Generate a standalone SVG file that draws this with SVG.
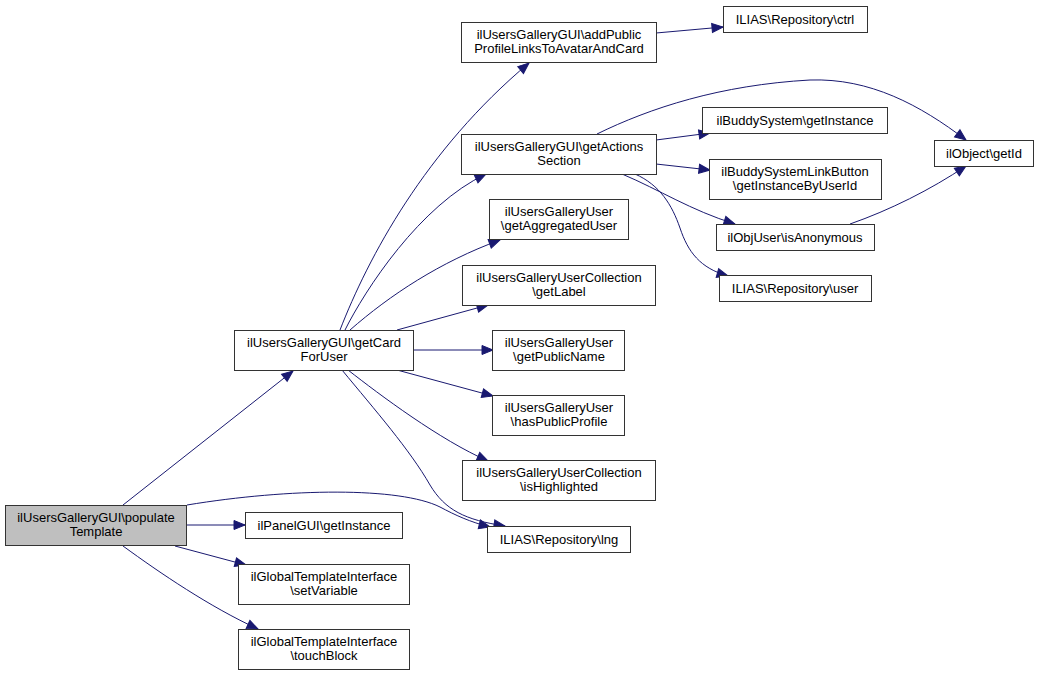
<svg xmlns="http://www.w3.org/2000/svg" width="1039" height="675" viewBox="0 0 1039 675">
<style>
.n rect{fill:#ffffff;stroke:#333333;stroke-width:1}
.n.root rect{fill:#bfbfbf}
.n text{font-family:"Liberation Sans",Arial,Helvetica,sans-serif;font-size:13px;fill:#000000;text-anchor:middle}
.e path{fill:none;stroke:#191970;stroke-width:1;marker-end:url(#ah)}
</style>
<defs>
<marker id="ah" markerUnits="userSpaceOnUse" markerWidth="14" markerHeight="11" refX="11" refY="4.5" orient="auto" overflow="visible">
<path d="M0,0 L11,4.5 L0,9 Z" fill="#191970" stroke="#191970" stroke-width="1"/>
</marker>
</defs>
<rect width="1039" height="675" fill="#ffffff"/>
<g id="connectors" class="e">
<path d="M123,505 L293,371"/>
<path d="M186,525 L245,525"/>
<path d="M175,546 L246,565"/>
<path d="M123,546 C160,573 210,607 258,629"/>
<path d="M187,505 C290,488 400,487 440,507 C455,515 470,522 490,527"/>
<path d="M340,330 C368,258 425,150 529,63"/>
<path d="M345,330 C365,290 420,205 486,174"/>
<path d="M350,330 C390,295 440,262 500,240"/>
<path d="M397,330 L488,305"/>
<path d="M413,350 L493,350"/>
<path d="M397,370 L493,396"/>
<path d="M348,370 C380,395 440,440 488,461"/>
<path d="M342,370 C375,410 410,450 430,485 C445,510 465,520 505,526"/>
<path d="M597,134 C650,108 720,85 810,80 C870,78 920,105 966,140"/>
<path d="M656,140 L710,133"/>
<path d="M656,164 L710,170"/>
<path d="M622,174 C660,190 690,210 735,224"/>
<path d="M635,174 C660,185 672,205 680,228 C688,252 700,268 728,276"/>
<path d="M850,224 C890,210 930,190 966,166"/>
<path d="M656,33 L723,27"/>
</g>
<g id="populateTemplate" class="n root"><rect x="5.5" y="505.5" width="181" height="40"/><text x="96" y="522">ilUsersGalleryGUI\populate</text><text x="96" y="536">Template</text></g>
<g id="getCardForUser" class="n"><rect x="234.5" y="330.5" width="179" height="40"/><text x="324" y="347">ilUsersGalleryGUI\getCard</text><text x="324" y="361">ForUser</text></g>
<g id="addPublicProfileLinks" class="n"><rect x="461.5" y="22.5" width="195" height="40"/><text x="559" y="39">ilUsersGalleryGUI\addPublic</text><text x="559" y="53">ProfileLinksToAvatarAndCard</text></g>
<g id="getActionsSection" class="n"><rect x="461.5" y="134.5" width="195" height="40"/><text x="559" y="151">ilUsersGalleryGUI\getActions</text><text x="559" y="165">Section</text></g>
<g id="getAggregatedUser" class="n"><rect x="489.5" y="199.5" width="139" height="40"/><text x="559" y="216">ilUsersGalleryUser</text><text x="559" y="230">\getAggregatedUser</text></g>
<g id="getLabel" class="n"><rect x="462.5" y="265.5" width="193" height="40"/><text x="559" y="282">ilUsersGalleryUserCollection</text><text x="559" y="296">\getLabel</text></g>
<g id="getPublicName" class="n"><rect x="492.5" y="330.5" width="132" height="40"/><text x="559" y="347">ilUsersGalleryUser</text><text x="559" y="361">\getPublicName</text></g>
<g id="hasPublicProfile" class="n"><rect x="492.5" y="395.5" width="132" height="40"/><text x="559" y="412">ilUsersGalleryUser</text><text x="559" y="426">\hasPublicProfile</text></g>
<g id="isHighlighted" class="n"><rect x="462.5" y="460.5" width="193" height="40"/><text x="559" y="477">ilUsersGalleryUserCollection</text><text x="559" y="491">\isHighlighted</text></g>
<g id="lng" class="n"><rect x="487.5" y="526.5" width="143" height="26"/><text x="559" y="544">ILIAS\Repository\lng</text></g>
<g id="ilPanelGUI_getInstance" class="n"><rect x="245.5" y="512.5" width="157" height="26"/><text x="324" y="530">ilPanelGUI\getInstance</text></g>
<g id="setVariable" class="n"><rect x="238.5" y="564.5" width="171" height="40"/><text x="324" y="581">ilGlobalTemplateInterface</text><text x="324" y="595">\setVariable</text></g>
<g id="touchBlock" class="n"><rect x="238.5" y="629.5" width="171" height="40"/><text x="324" y="646">ilGlobalTemplateInterface</text><text x="324" y="660">\touchBlock</text></g>
<g id="ctrl" class="n"><rect x="723.5" y="6.5" width="144" height="26"/><text x="795" y="24">ILIAS\Repository\ctrl</text></g>
<g id="ilBuddySystem_getInstance" class="n"><rect x="702.5" y="107.5" width="185" height="26"/><text x="795" y="125">ilBuddySystem\getInstance</text></g>
<g id="getInstanceByUserId" class="n"><rect x="709.5" y="159.5" width="172" height="40"/><text x="795" y="176">ilBuddySystemLinkButton</text><text x="795" y="190">\getInstanceByUserId</text></g>
<g id="isAnonymous" class="n"><rect x="716.5" y="224.5" width="158" height="26"/><text x="795" y="242">ilObjUser\isAnonymous</text></g>
<g id="user" class="n"><rect x="719.5" y="275.5" width="152" height="26"/><text x="795" y="293">ILIAS\Repository\user</text></g>
<g id="getId" class="n"><rect x="934.5" y="140.5" width="99" height="26"/><text x="984" y="158">ilObject\getId</text></g>
</svg>
